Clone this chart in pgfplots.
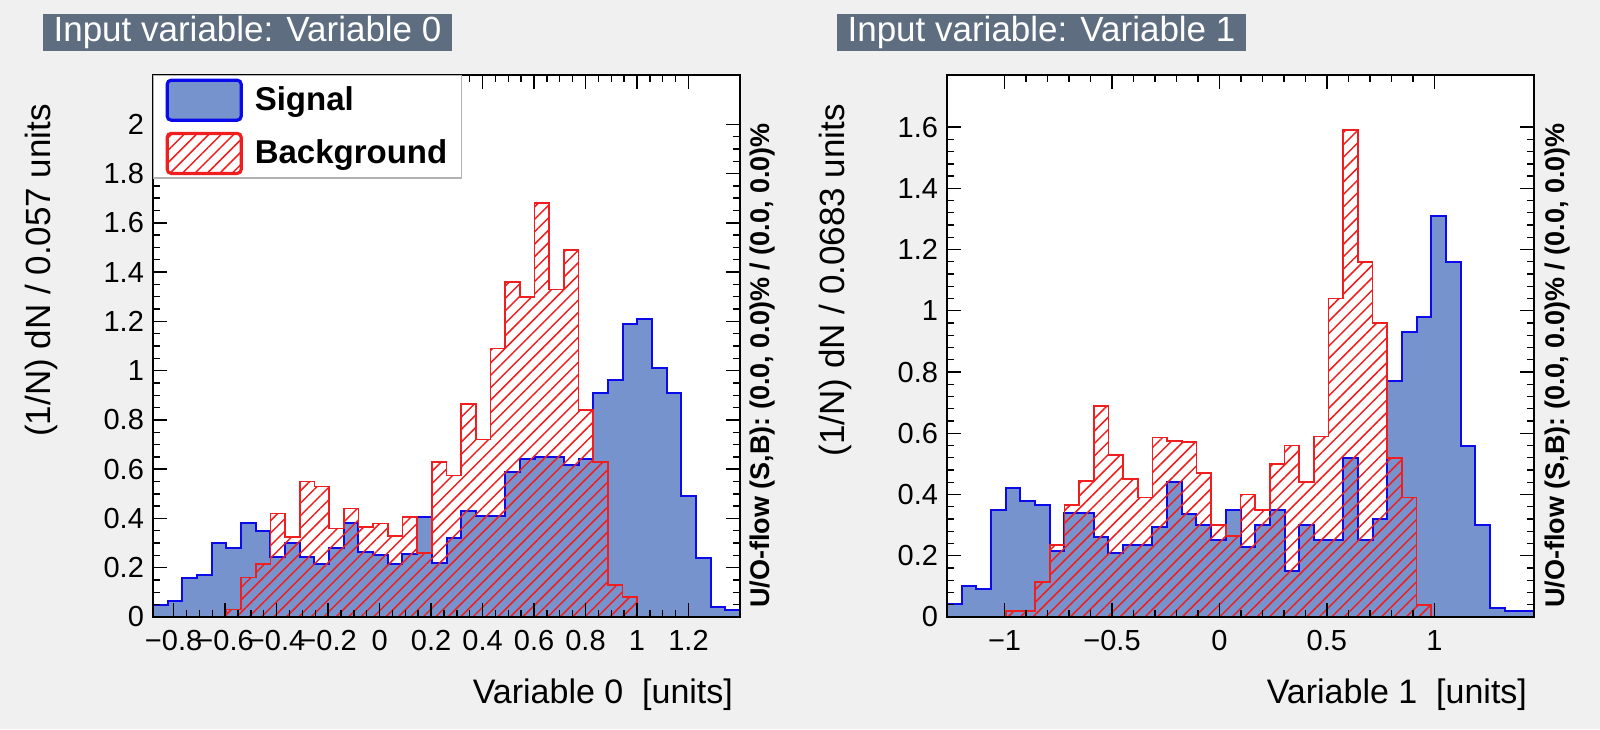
\documentclass[border=0pt]{standalone}
\usepackage{fontspec}
\setmainfont{Liberation Sans}
\usepackage{pgfplots}
\pgfplotsset{compat=1.18}
\usepackage{pgfplotstable}
\usetikzlibrary{patterns.meta}

\definecolor{sigfill}{RGB}{118,147,206}
\definecolor{sigline}{RGB}{10,10,235}
\definecolor{bkgline}{RGB}{240,30,30}
\definecolor{titlebox}{RGB}{94,109,128}
\definecolor{panelbg}{RGB}{240,240,240}

% Variable 0 : bin left edges, signal, background
\pgfplotstableread{
x S B
-0.880 0.050 0
-0.823 0.065 0
-0.766 0.160 0
-0.709 0.170 0
-0.652 0.300 0
-0.595 0.280 0.030
-0.538 0.380 0.160
-0.481 0.350 0.215
-0.424 0.245 0.420
-0.367 0.300 0.325
-0.310 0.245 0.550
-0.253 0.215 0.530
-0.196 0.280 0.360
-0.139 0.380 0.440
-0.082 0.265 0.365
-0.025 0.250 0.380
0.032 0.215 0.330
0.089 0.255 0.405
0.146 0.405 0.260
0.203 0.220 0.630
0.260 0.320 0.575
0.317 0.430 0.865
0.374 0.410 0.720
0.431 0.410 1.090
0.488 0.590 1.360
0.545 0.640 1.300
0.602 0.650 1.680
0.659 0.650 1.330
0.716 0.615 1.490
0.773 0.640 0.840
0.830 0.910 0.630
0.887 0.960 0.130
0.944 1.190 0.080
1.001 1.210 0
1.058 1.010 0
1.115 0.910 0
1.172 0.490 0
1.229 0.240 0
1.286 0.040 0
1.343 0.030 0
1.400 0.030 0
}\tabA

% Variable 1 : bin left edges, signal, background
\pgfplotstableread{
x S B
-1.2680 0.044 0
-1.1997 0.100 0
-1.1314 0.090 0
-1.0631 0.350 0
-0.9948 0.420 0.020
-0.9265 0.380 0.020
-0.8582 0.365 0.115
-0.7899 0.215 0.235
-0.7216 0.340 0.365
-0.6533 0.340 0.445
-0.5850 0.260 0.690
-0.5167 0.210 0.530
-0.4484 0.235 0.450
-0.3801 0.235 0.390
-0.3118 0.295 0.586
-0.2435 0.440 0.575
-0.1752 0.335 0.572
-0.1069 0.300 0.470
-0.0386 0.250 0.300
0.0297 0.350 0.265
0.0980 0.230 0.400
0.1663 0.300 0.350
0.2346 0.350 0.500
0.3029 0.150 0.560
0.3712 0.300 0.440
0.4395 0.250 0.590
0.5078 0.250 1.040
0.5761 0.520 1.590
0.6444 0.250 1.160
0.7127 0.320 0.960
0.7810 0.770 0.520
0.8493 0.930 0.390
0.9176 0.980 0.040
0.9859 1.310 0
1.0542 1.160 0
1.1225 0.560 0
1.1908 0.300 0
1.2591 0.030 0
1.3274 0.020 0
1.3957 0.020 0
1.4640 0.020 0
}\tabB

\pgfplotsset{
  tmva/.style={
    scale only axis, width=293.5pt, height=271pt,
    anchor=south west,
    axis on top,
    axis background/.style={fill=white},
    axis line style={line width=1pt},
    tick align=inside,
    major tick length=7pt, minor tick length=3.5pt,
    every tick/.style={black, line width=0.7pt},
    tick label style={font=\fontsize{14.5}{16}\selectfont},
    /pgf/number format/assume math mode=true,
    xticklabel style={yshift=-3pt},
    yticklabel style={xshift=-1pt},
    ymin=0,
  },
  sig/.style={const plot, fill=sigfill, draw=sigline, line width=1pt},
  bkg/.style={const plot, draw=bkgline, line width=0.8pt,
    pattern={Lines[angle=45,distance=4.4pt,line width=0.75pt]}, pattern color=bkgline},
}

\begin{document}
\begin{tikzpicture}
\fill[panelbg] (0,0) rectangle (800pt,364.5pt);
\useasboundingbox (0,0) rectangle (800pt,364.5pt);

% title boxes
\fill[titlebox] (21.5pt,339pt) rectangle (226pt,357.5pt);
\node[white, font=\fontsize{17.5}{19}\selectfont] at (123.75pt,348.25pt) {Input variable: Variable 0};
\fill[titlebox] (418.5pt,339pt) rectangle (623pt,357.5pt);
\node[white, font=\fontsize{17.5}{19}\selectfont] at (520.75pt,348.25pt) {Input variable: Variable 1};

% ---------------- left panel
\begin{axis}[tmva, at={(76.5pt,56pt)},
  xmin=-0.88, xmax=1.40, ymax=2.2,
  xtick={-0.8,-0.6,-0.4,-0.2,0,0.2,0.4,0.6,0.8,1,1.2},
  xticklabels={−0.8,−0.6,−0.4,−0.2,0,0.2,0.4,0.6,0.8,1,1.2},
  minor x tick num=3,
  ytick={0,0.2,0.4,0.6,0.8,1,1.2,1.4,1.6,1.8,2},
  yticklabels={0,0.2,0.4,0.6,0.8,1,1.2,1.4,1.6,1.8,2},
  minor y tick num=3,
  legend style={at={(0,1)}, anchor=north west, draw=gray!60, line width=0.6pt,
    fill=white, inner xsep=6pt, inner ysep=1.5pt, row sep=5pt, column sep=5pt,
    nodes={inner sep=1pt},
    font=\fontsize{16.5}{18}\selectfont\bfseries},
  legend cell align=left,
  legend image code/.code={\draw[#1, rounded corners=2pt, line width=1.6pt] (0pt,-10pt) rectangle (37pt,10pt);},
]
\addplot[sig] table[x=x,y=S]{\tabA} \closedcycle;
\addplot[bkg] table[x=x,y=B]{\tabA} \closedcycle;
\legend{Signal,Background}
\end{axis}

% ---------------- right panel
\begin{axis}[tmva, at={(473.5pt,56pt)},
  xmin=-1.268, xmax=1.464, ymax=1.77,
  xtick={-1,-0.5,0,0.5,1},
  xticklabels={−1,−0.5,0,0.5,1},
  minor x tick num=4,
  ytick={0,0.2,0.4,0.6,0.8,1,1.2,1.4,1.6},
  yticklabels={0,0.2,0.4,0.6,0.8,1,1.2,1.4,1.6},
  minor y tick num=4,
]
\addplot[sig] table[x=x,y=S]{\tabB} \closedcycle;
\addplot[bkg] table[x=x,y=B]{\tabB} \closedcycle;
\end{axis}

% axis titles
\node[rotate=90, anchor=east, font=\fontsize{17.5}{19}\selectfont] at (20.5pt,316pt) {(1/N) dN / 0.057 units};
\node[rotate=90, anchor=east, font=\fontsize{17.5}{19}\selectfont] at (417.5pt,316pt) {(1/N) dN / 0.0683 units};
\node[anchor=base east, font=\fontsize{17}{19}\selectfont] at (370pt,13pt) {Variable 0\ \ [units]};
\node[anchor=base east, font=\fontsize{17}{19}\selectfont] at (767pt,13pt) {Variable 1\ \ [units]};
% under/overflow labels
\node[rotate=90, anchor=west, font=\fontsize{13.5}{15}\selectfont\bfseries] at (381.5pt,57pt) {U/O-flow (S,B): (0.0, 0.0)\% / (0.0, 0.0)\%};
\node[rotate=90, anchor=west, font=\fontsize{13.5}{15}\selectfont\bfseries] at (778.5pt,57pt) {U/O-flow (S,B): (0.0, 0.0)\% / (0.0, 0.0)\%};
\end{tikzpicture}
\end{document}
